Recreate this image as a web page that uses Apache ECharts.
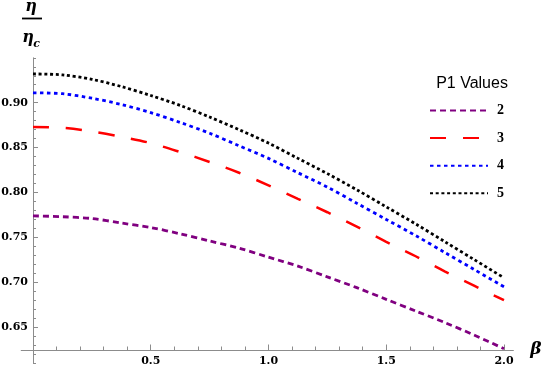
<!DOCTYPE html>
<html>
<head>
<meta charset="utf-8">
<script src="https://cdn.jsdelivr.net/npm/echarts@6/dist/echarts.min.js"></script>
<style>
  html, body { margin: 0; padding: 0; background: #fff; }
  #chart { width: 542px; height: 369px; }
</style>
</head>
<body>
<div id="chart"></div>
<script>
// beta values and eta/eta_c for each P1 value
var betaVals = [0, 0.125, 0.25, 0.375, 0.5, 0.625, 0.75, 0.875, 1.0,
                1.125, 1.25, 1.375, 1.5, 1.625, 1.75, 1.875, 2.0];
var p1Two   = [0.774, 0.773, 0.771, 0.766, 0.761, 0.754, 0.746, 0.738, 0.728,
               0.718, 0.706, 0.694, 0.681, 0.668, 0.655, 0.641, 0.626];
var p1Three = [0.873, 0.872, 0.868, 0.862, 0.855, 0.845, 0.834, 0.822, 0.808,
               0.793, 0.778, 0.762, 0.745, 0.729, 0.712, 0.696, 0.680];
var p1Four  = [0.911, 0.910, 0.905, 0.898, 0.889, 0.878, 0.866, 0.852, 0.838,
               0.822, 0.806, 0.788, 0.770, 0.752, 0.733, 0.714, 0.695];
var p1Five  = [0.932, 0.931, 0.926, 0.918, 0.908, 0.897, 0.884, 0.870, 0.855,
               0.838, 0.821, 0.803, 0.784, 0.765, 0.745, 0.725, 0.705];
var seriesNames = ['2', '3', '4', '5'];

// tick labels
var xLabels = [0.5, 1.0, 1.5, 2.0];
var yLabels = [0.65, 0.70, 0.75, 0.80, 0.85, 0.90];

var xMinor = [];
for (var i = 1; i <= 20; i++) xMinor.push(+(i * 0.1).toFixed(1));
var yMinor = [];
for (var j = 61; j <= 95; j++) yMinor.push(j / 100);

function pairs(ys) {
  return betaVals.map(function (b, k) { return [b, ys[k]]; });
}

var chart = echarts.init(document.getElementById('chart'));
var tickFont = { fontFamily: 'DejaVu Serif', fontWeight: 'bold', fontSize: 11, color: '#000' };
var axisGray = '#8c8c8c';
var clear = 'rgba(0,0,0,0)';

var X_MIN = -0.05, X_MAX = 2.04, Y_MIN = 0.61, Y_MAX = 0.95;
// y axis sits at beta = 0, x axis at eta = 0.624
var Y_AXIS_SHIFT = -11.8, X_AXIS_SHIFT = -12.6;

chart.setOption({
  animation: false,
  grid: { left: 21.2, right: 28.6, top: 57.8, bottom: 5.9, containLabel: false, outerBoundsMode: 'none' },
  xAxis: [{
    type: 'value', min: X_MIN, max: X_MAX, position: 'bottom', offset: X_AXIS_SHIFT,
    axisLine: { onZero: false, lineStyle: { color: axisGray, width: 1 } },
    axisTick: { inside: true, length: 4, customValues: xMinor, lineStyle: { color: axisGray } },
    axisLabel: { show: false },
    splitLine: { show: false }
  }, {
    type: 'value', min: X_MIN, max: X_MAX, position: 'bottom', offset: X_AXIS_SHIFT,
    axisLine: { onZero: false, lineStyle: { color: clear } },
    axisTick: { inside: true, length: 6, customValues: xLabels, lineStyle: { color: axisGray } },
    axisLabel: Object.assign({ customValues: xLabels, margin: 5,
      formatter: function (v) { return v.toFixed(1); } }, tickFont),
    splitLine: { show: false }
  }],
  yAxis: [{
    type: 'value', min: Y_MIN, max: Y_MAX, position: 'left', offset: Y_AXIS_SHIFT,
    axisLine: { onZero: false, lineStyle: { color: axisGray, width: 1 } },
    axisTick: { inside: true, length: 3, customValues: yMinor, lineStyle: { color: axisGray } },
    axisLabel: { show: false },
    splitLine: { show: false }
  }, {
    type: 'value', min: Y_MIN, max: Y_MAX, position: 'left', offset: Y_AXIS_SHIFT,
    axisLine: { onZero: false, lineStyle: { color: clear } },
    axisTick: { inside: true, length: 5, customValues: yLabels, lineStyle: { color: axisGray } },
    axisLabel: Object.assign({ customValues: yLabels, margin: 5,
      formatter: function (v) { return v.toFixed(2); } }, tickFont),
    splitLine: { show: false }
  }],
  legend: {
    orient: 'vertical', left: 429, top: 103.5, padding: 0,
    itemWidth: 58, itemHeight: 14, itemGap: 13.6,
    data: seriesNames,
    itemStyle: { opacity: 0 },
    textStyle: { fontFamily: 'Liberation Serif', fontWeight: 'bold', fontSize: 14, color: '#000', padding: [0, 0, 0, 4] }
  },
  graphic: [
    { type: 'text', x: 31, y: 7, style: { text: 'η', font: 'bold italic 16px "DejaVu Serif"', fill: '#000', align: 'center', verticalAlign: 'middle' } },
    { type: 'line', shape: { x1: 22, y1: 18.5, x2: 42, y2: 18.5 }, style: { stroke: '#000', lineWidth: 1.8 } },
    { type: 'text', x: 28, y: 38, style: { text: 'η', font: 'bold italic 16px "DejaVu Serif"', fill: '#000', align: 'center', verticalAlign: 'middle' } },
    { type: 'text', x: 36.5, y: 44, style: { text: 'c', font: 'bold italic 11px "DejaVu Serif"', fill: '#000', align: 'center', verticalAlign: 'middle' } },
    { type: 'text', x: 536, y: 350, style: { text: 'β', font: 'bold italic 17px "DejaVu Serif"', fill: '#000', align: 'center', verticalAlign: 'middle' } },
    { type: 'text', x: 472, y: 84, style: { text: 'P1 Values', font: '16px "Liberation Sans"', fill: '#000', align: 'center', verticalAlign: 'middle' } }
  ],
  series: [{
    name: '2', type: 'line', data: pairs(p1Two), smooth: 0.3, symbol: 'none',
    lineStyle: { color: '#800080', width: 2.8, type: [6, 4] }, itemStyle: { color: '#800080' }
  }, {
    name: '3', type: 'line', data: pairs(p1Three), smooth: 0.3, symbol: 'none',
    lineStyle: { color: '#ff0000', width: 2.5, type: [16, 17] }, itemStyle: { color: '#ff0000' }
  }, {
    name: '4', type: 'line', data: pairs(p1Four), smooth: 0.3, symbol: 'none',
    lineStyle: { color: '#0000ff', width: 2.8, type: [3.5, 3.5] }, itemStyle: { color: '#0000ff' }
  }, {
    name: '5', type: 'line', data: pairs(p1Five), smooth: 0.3, symbol: 'none',
    lineStyle: { color: '#000000', width: 2.8, type: [3, 2.7] }, itemStyle: { color: '#000000' }
  }]
});
</script>
</body>
</html>
